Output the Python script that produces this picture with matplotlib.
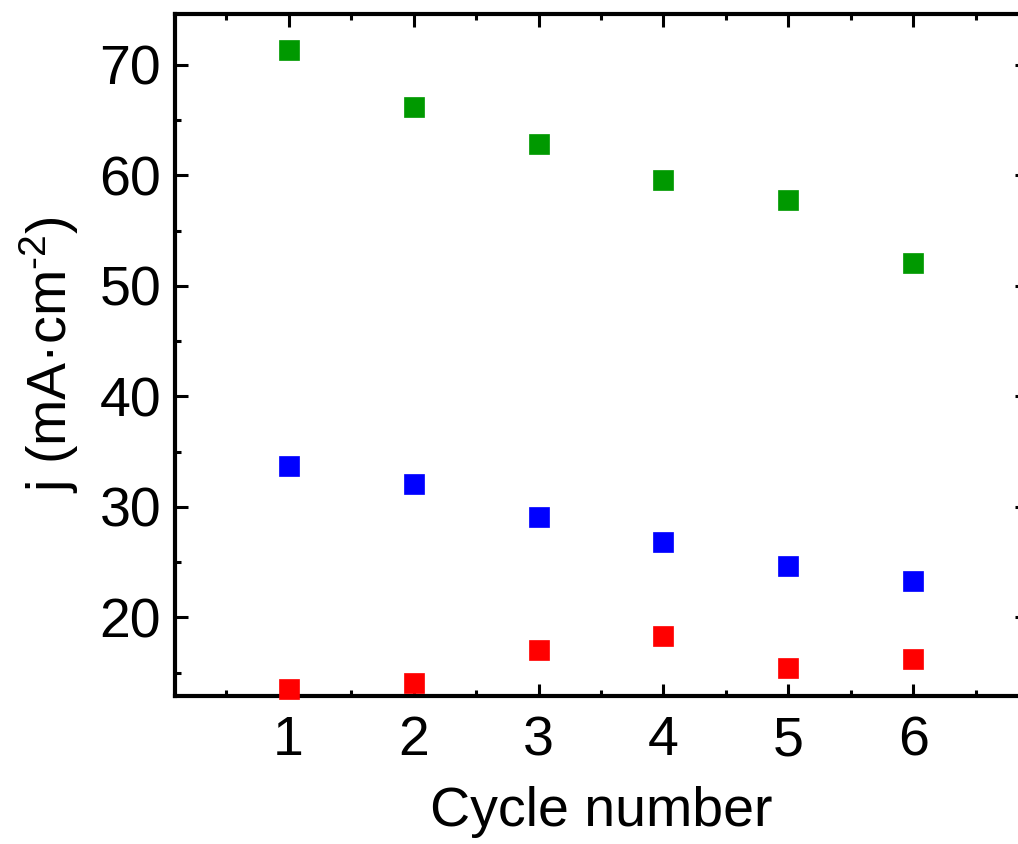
import numpy as np
import matplotlib.pyplot as plt
from matplotlib.ticker import MultipleLocator

plt.rcParams['font.family'] = ['Liberation Sans', 'DejaVu Sans']
plt.rcParams['mathtext.fontset'] = 'custom'
plt.rcParams['mathtext.rm'] = 'Liberation Sans'
plt.rcParams['mathtext.default'] = 'regular'

cycles = [1, 2, 3, 4, 5, 6]
j_green = [71.3, 66.2, 62.8, 59.6, 57.8, 52.1]
j_blue = [33.7, 32.1, 29.1, 26.8, 24.6, 23.3]
j_red = [13.5, 14.1, 17.0, 18.3, 15.4, 16.2]

fig = plt.figure(figsize=(10.18, 8.44), dpi=100)
ax = fig.add_axes([175 / 1018, 148 / 844, 852 / 1018, 682 / 844])

for vals, col in [(j_green, '#009900'), (j_blue, '#0000ff'), (j_red, '#ff0000')]:
    ax.plot(cycles, vals, ls='none', marker='s', ms=14.4, color=col,
            mec=col, mew=0.5, clip_on=False, zorder=3)

ax.set_xlim(0.09, 6.91)
ax.set_ylim(12.88, 74.6)
ax.xaxis.set_minor_locator(MultipleLocator(0.5))
ax.yaxis.set_minor_locator(MultipleLocator(5))
ax.set_xticks(cycles)
ax.set_yticks([20, 30, 40, 50, 60, 70])

for s in ax.spines.values():
    s.set_linewidth(3)
ax.tick_params(which='both', direction='in', top=True, right=True, width=2.2)
ax.tick_params(which='major', length=9, labelsize=40, pad=10)
ax.tick_params(which='minor', length=4.5)
ax.tick_params(axis='x', which='major', pad=14)

ax.set_xlabel('Cycle number', fontsize=40, labelpad=13)
ax.set_ylabel(r'j (mA·cm$^{\text{-2}}$)', fontsize=40, labelpad=13)

fig.savefig('out.png', dpi=100)
